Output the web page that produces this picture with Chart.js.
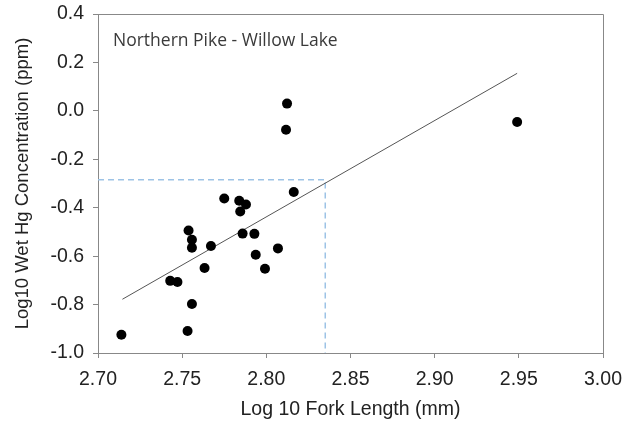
<!DOCTYPE html>
<html>
<head>
<meta charset="utf-8">
<script src="https://cdn.jsdelivr.net/npm/chart.js@4"></script>
<style>
html,body{margin:0;padding:0;background:#fff;}
#wrap{width:634px;height:421px;position:relative;}
</style>
</head>
<body>
<div id="wrap"><canvas id="c" width="634" height="421"></canvas></div>
<script>
const forkLength = [2.7139, 2.7532, 2.7558, 2.7429, 2.7472, 2.7633, 2.7538, 2.7558, 2.7558, 2.7671,
  2.7750, 2.7839, 2.7879, 2.7845, 2.7859, 2.7929, 2.7937, 2.7992, 2.8069, 2.8163,
  2.8123, 2.8117, 2.9490];
const hgConc = [-0.925, -0.909, -0.798, -0.702, -0.707, -0.649, -0.494, -0.532, -0.565, -0.558,
  -0.362, -0.371, -0.387, -0.416, -0.507, -0.508, -0.594, -0.652, -0.568, -0.335,
  0.030, -0.078, -0.046];
const fitX = [2.7145, 2.949];
const fitY = [-0.778, 0.155];
const refX = [2.70, 2.835, 2.835];
const refY = [-0.285, -0.285, -1.0];
const xTicks = [2.70, 2.75, 2.80, 2.85, 2.90, 2.95, 3.00];
const yTicks = [-1.0, -0.8, -0.6, -0.4, -0.2, 0.0, 0.2, 0.4];
const chartTitle = "Northern Pike - Willow Lake";
const xTitle = "Log 10 Fork Length (mm)";
const yTitle = "Log10 Wet Hg Concentration (ppm)";

const toPts = (xs, ys) => xs.map((x, i) => ({x: x, y: ys[i]}));

const boxPlugin = {
  id: 'box',
  afterDatasetsDraw(chart) {
    const {ctx, chartArea: a} = chart;
    ctx.save();
    ctx.strokeStyle = '#888888';
    ctx.lineWidth = 1;
    ctx.beginPath();
    ctx.moveTo(a.left, a.top + 0.5);
    ctx.lineTo(a.right + 0.5, a.top + 0.5);
    ctx.lineTo(a.right + 0.5, a.bottom);
    ctx.stroke();
    ctx.fillStyle = '#3a3a3a';
    ctx.font = '17.5px "Open Sans"';
    ctx.textBaseline = 'middle';
    ctx.textAlign = 'left';
    ctx.fillText(chartTitle, a.left + 15, a.top + 27);
    ctx.restore();
  }
};

const chart = new Chart(document.getElementById('c'), {
  type: 'scatter',
  data: {
    datasets: [
      {
        data: toPts(refX, refY), showLine: true, borderColor: '#9dc3e6', borderWidth: 1.5,
        borderDash: [6, 4], pointRadius: 0, fill: false, order: 3
      },
      {
        data: toPts(fitX, fitY), showLine: true, borderColor: '#555555', borderWidth: 1,
        pointRadius: 0, fill: false, order: 2
      },
      {
        data: toPts(forkLength, hgConc), backgroundColor: '#000000', borderColor: '#000000',
        pointRadius: 5, borderWidth: 0, order: 1
      }
    ]
  },
  options: {
    responsive: false,
    animation: false,
    layout: {padding: {top: 14, right: 31, left: 0, bottom: 0}},
    plugins: {legend: {display: false}, tooltip: {enabled: false}},
    scales: {
      x: {
        type: 'linear', min: 2.70, max: 3.00,
        afterBuildTicks(s) { s.ticks = xTicks.map(v => ({value: v})); },
        afterFit(s) { s.height = 68; s.paddingLeft = 0; s.paddingRight = 0; },
        grid: {display: true, drawOnChartArea: false, drawTicks: true, tickLength: 5, tickColor: '#888888'},
        border: {display: true, color: '#888888', width: 1},
        ticks: {color: '#222222', font: {family: '"Liberation Sans"', size: 19.5}, padding: 10,
          maxRotation: 0, callback: v => Number(v).toFixed(2)},
        title: {display: true, text: xTitle, color: '#222222', font: {family: '"Liberation Sans"', size: 19.5}, padding: {top: 0, bottom: 0}}
      },
      y: {
        type: 'linear', min: -1.0, max: 0.4,
        afterBuildTicks(s) { s.ticks = yTicks.map(v => ({value: v})); },
        afterFit(s) { s.width = 98; s.paddingTop = 0; s.paddingBottom = 0; },
        grid: {display: true, drawOnChartArea: false, drawTicks: true, tickLength: 5, tickColor: '#888888'},
        border: {display: true, color: '#888888', width: 1},
        ticks: {color: '#222222', font: {family: '"Liberation Sans"', size: 19.5}, padding: 9,
          callback: v => Number(v).toFixed(1)},
        title: {display: true, text: yTitle, color: '#222222', font: {family: '"Liberation Sans"', size: 18.5}, padding: {top: 12, bottom: 0}}
      }
    }
  },
  plugins: [boxPlugin]
});
</script>
</body>
</html>
